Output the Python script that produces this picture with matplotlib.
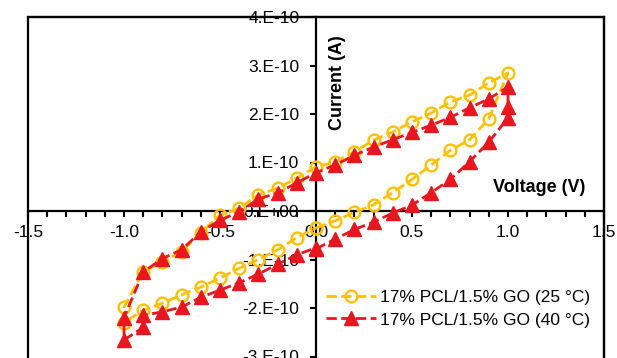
import matplotlib
matplotlib.use('Agg')
import matplotlib.pyplot as plt
from matplotlib.patches import Rectangle
from matplotlib.ticker import FixedLocator, FixedFormatter, MultipleLocator

plt.rcParams['font.family'] = ['Liberation Sans', 'DejaVu Sans']

# ---- data (current in units of 1e-10 A) ----
voltage_25 = [0.0, 0.1, 0.2, 0.3, 0.4, 0.5, 0.6, 0.7, 0.8, 0.9,
              1.0, 0.9, 0.8, 0.7, 0.6, 0.5, 0.4, 0.3, 0.2, 0.1, 0.0,
              -0.1, -0.2, -0.3, -0.4, -0.5, -0.6, -0.7, -0.8, -0.9, -1.0,
              -1.0, -0.9, -0.8, -0.7, -0.6, -0.5, -0.4, -0.3, -0.2, -0.1, 0.0]
current_25 = [-0.35, -0.2, -0.03, 0.13, 0.38, 0.65, 0.95, 1.25, 1.47, 1.9,
              2.85, 2.64, 2.39, 2.25, 2.02, 1.84, 1.63, 1.46, 1.22, 1.01, 0.91,
              0.68, 0.47, 0.33, 0.06, -0.08, -0.45, -0.84, -1.05, -1.25, -1.98,
              -2.3, -2.05, -1.9, -1.73, -1.57, -1.38, -1.18, -1.0, -0.8, -0.55, -0.35]

voltage_40 = [0.0, 0.1, 0.2, 0.3, 0.4, 0.5, 0.6, 0.7, 0.8, 0.9,
              1.0, 1.0, 1.0, 0.9, 0.8, 0.7, 0.6, 0.5, 0.4, 0.3, 0.2, 0.1, 0.0,
              -0.1, -0.2, -0.3, -0.4, -0.5, -0.6, -0.7, -0.8, -0.9, -1.0,
              -1.0, -0.9, -0.9, -0.8, -0.7, -0.6, -0.5, -0.4, -0.3, -0.2, -0.1, 0.0]
current_40 = [-0.78, -0.58, -0.38, -0.23, -0.04, 0.12, 0.38, 0.65, 1.02, 1.42,
              1.92, 2.14, 2.56, 2.31, 2.13, 1.93, 1.77, 1.62, 1.47, 1.32, 1.15, 0.95, 0.79,
              0.58, 0.37, 0.25, -0.02, -0.19, -0.43, -0.8, -0.98, -1.26, -2.2,
              -2.66, -2.4, -2.15, -2.08, -1.98, -1.78, -1.63, -1.48, -1.3, -1.1, -0.9, -0.76]

labels = ['17% PCL/1.5% GO (25 °C)', '17% PCL/1.5% GO (40 °C)']

x_ticks = [-1.5, -1.0, -0.5, 0.0, 0.5, 1.0, 1.5]
x_tick_labels = ['-1.5', '-1.0', '-0.5', '0.0', '0.5', '1.0', '1.5']
y_ticks = [-4e-10, -3e-10, -2e-10, -1e-10, 0.0, 1e-10, 2e-10, 3e-10, 4e-10]
y_tick_labels = ['-4.E-10', '-3.E-10', '-2.E-10', '-1.E-10', '0.E+00',
                 '1.E-10', '2.E-10', '3.E-10', '4.E-10']

SCALE = 1e-10
W, H = 617, 358
fig = plt.figure(figsize=(W / 100, H / 100), dpi=100)

# axes geometry in pixels
left_px, right_px = 28, 604
top_px, bottom_px = 17, 405
ax = fig.add_axes([left_px / W, (H - bottom_px) / H,
                   (right_px - left_px) / W, (bottom_px - top_px) / H])

yellow = '#FFC000'
red = '#E8161E'

ax.plot(voltage_25, [c * SCALE for c in current_25], linestyle='--', color=yellow,
        linewidth=2.0, marker='o', markersize=8.5, markerfacecolor='none',
        markeredgecolor=yellow, markeredgewidth=1.7, label=labels[0], zorder=3)
ax.plot(voltage_40, [c * SCALE for c in current_40], linestyle='--', color=red,
        linewidth=2.0, marker='^', markersize=10, markerfacecolor=red,
        markeredgecolor=red, label=labels[1], zorder=4)

ax.set_xlim(-1.5, 1.5)
ax.set_ylim(-4e-10, 4e-10)

# spines crossing at zero
ax.spines['left'].set_position(('data', 0))
ax.spines['bottom'].set_position(('data', 0))
for s in ax.spines.values():
    s.set_linewidth(1.6)
    s.set_color('black')
ax.add_patch(Rectangle((0, 0), 1, 1, transform=ax.transAxes, fill=False,
                       edgecolor='black', linewidth=1.6, clip_on=False, zorder=5))

ax.xaxis.set_major_locator(FixedLocator(x_ticks))
ax.xaxis.set_major_formatter(FixedFormatter(x_tick_labels))
ax.xaxis.set_minor_locator(MultipleLocator(0.1))
ax.yaxis.set_major_locator(FixedLocator(y_ticks))
ax.yaxis.set_major_formatter(FixedFormatter(y_tick_labels))

ax.tick_params(axis='x', which='both', direction='out', length=4, width=1.5,
               labelsize=12.5, pad=6)
ax.tick_params(axis='y', which='major', direction='out', length=4, width=1.5,
               labelsize=12.5, pad=8)
ax.tick_params(top=False, right=False)

# axis titles
fig.text(338 / W, 1 - 83 / H, 'Current (A)', rotation=90, fontsize=13,
         fontweight='bold', ha='center', va='center')
fig.text(539 / W, 1 - 188 / H, 'Voltage (V)', fontsize=13,
         fontweight='bold', ha='center', va='center')

leg = ax.legend(loc='center left', bbox_to_anchor=(326 / W, 1 - 308.5 / H),
                bbox_transform=fig.transFigure, frameon=False, fontsize=12.5,
                handlelength=2.9, handletextpad=0.2, labelspacing=0.45,
                borderpad=0, borderaxespad=0, numpoints=1)

fig.savefig('out.png', dpi=100)
